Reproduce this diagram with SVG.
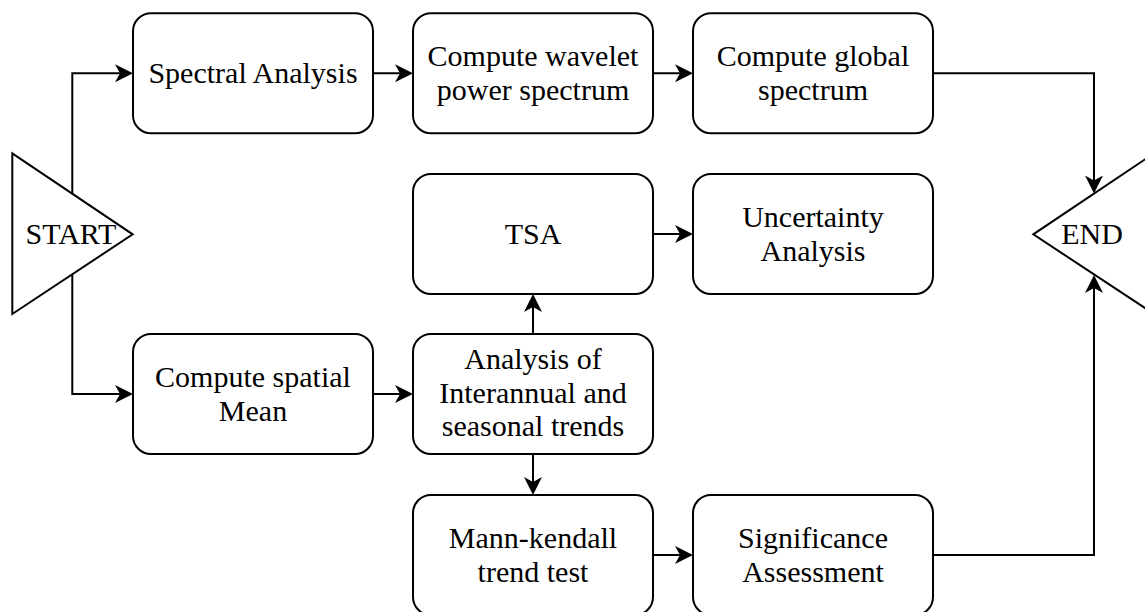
<svg xmlns="http://www.w3.org/2000/svg" width="1145" height="612" viewBox="0 0 1145 612">
  <style>
    .box { fill: #ffffff; stroke: #000000; stroke-width: 2; }
    .tri { fill: #ffffff; stroke: #000000; stroke-width: 2; stroke-linejoin: miter; }
    .lbl { font-family: "Liberation Serif", "Times New Roman", serif; font-size: 30px; fill: #000000; text-anchor: middle; }
    .edge { fill: none; stroke: #000000; stroke-width: 2; marker-end: url(#arrow); }
  </style>
  <defs>
    <marker id="arrow" viewBox="0 0 18 18" refX="12" refY="9" markerWidth="18" markerHeight="18" markerUnits="userSpaceOnUse" orient="auto">
      <path d="M0,0 L18,9 L0,18 L5,9 Z" fill="#000000"/>
    </marker>
  </defs>
  <rect width="1145" height="612" fill="#ffffff"/>

  <g id="connectors">
    <path class="edge" d="M72.3,193.5 V73.3 H127"/>
    <path class="edge" d="M72.3,275 V394 H127"/>
    <path class="edge" d="M373,73.3 H407"/>
    <path class="edge" d="M653,73.3 H687"/>
    <path class="edge" d="M933,73.3 H1094 V187.5"/>
    <path class="edge" d="M653,234 H687"/>
    <path class="edge" d="M373,394 H407"/>
    <path class="edge" d="M533,334 V300"/>
    <path class="edge" d="M533,454 V489"/>
    <path class="edge" d="M653,555 H687"/>
    <path class="edge" d="M933,555 H1094 V281"/>
  </g>

  <g id="start">
    <polygon class="tri" points="12.3,153.3 132.7,234.3 12.3,314"/>
    <text class="lbl" x="71" y="243.5">START</text>
  </g>
  <g id="end">
    <polygon class="tri" points="1154,153.3 1033.3,234.3 1154,314"/>
    <text class="lbl" x="1092" y="243.5">END</text>
  </g>

  <g id="spectral">
    <rect class="box" x="133" y="13.3" width="240" height="120" rx="18"/>
    <text class="lbl" x="253" y="82.8">Spectral Analysis</text>
  </g>
  <g id="wavelet">
    <rect class="box" x="413" y="13.3" width="240" height="120" rx="18"/>
    <text class="lbl" x="533" y="65.8">Compute wavelet</text>
    <text class="lbl" x="533" y="99.8">power spectrum</text>
  </g>
  <g id="global">
    <rect class="box" x="693" y="13.3" width="240" height="120" rx="18"/>
    <text class="lbl" x="813" y="65.8">Compute global</text>
    <text class="lbl" x="813" y="99.8">spectrum</text>
  </g>
  <g id="tsa">
    <rect class="box" x="413" y="174" width="240" height="120" rx="18"/>
    <text class="lbl" x="533" y="243.5">TSA</text>
  </g>
  <g id="uncertainty">
    <rect class="box" x="693" y="174" width="240" height="120" rx="18"/>
    <text class="lbl" x="813" y="226.5">Uncertainty</text>
    <text class="lbl" x="813" y="260.5">Analysis</text>
  </g>
  <g id="spatial">
    <rect class="box" x="133" y="334" width="240" height="120" rx="18"/>
    <text class="lbl" x="253" y="386.5">Compute spatial</text>
    <text class="lbl" x="253" y="420.5">Mean</text>
  </g>
  <g id="analysis">
    <rect class="box" x="413" y="334" width="240" height="120" rx="18"/>
    <text class="lbl" x="533" y="369">Analysis of</text>
    <text class="lbl" x="533" y="402.5">Interannual and</text>
    <text class="lbl" x="533" y="436">seasonal trends</text>
  </g>
  <g id="mannkendall">
    <rect class="box" x="413" y="495" width="240" height="120" rx="18"/>
    <text class="lbl" x="533" y="547.5">Mann-kendall</text>
    <text class="lbl" x="533" y="581.5">trend test</text>
  </g>
  <g id="significance">
    <rect class="box" x="693" y="495" width="240" height="120" rx="18"/>
    <text class="lbl" x="813" y="547.5">Significance</text>
    <text class="lbl" x="813" y="581.5">Assessment</text>
  </g>
</svg>
